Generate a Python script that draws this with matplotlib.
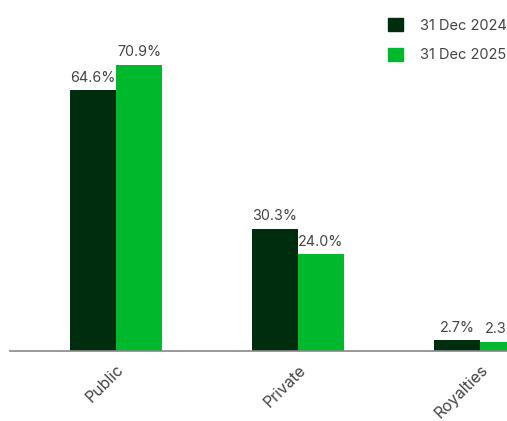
import numpy as np
import matplotlib.pyplot as plt
from matplotlib.patches import Patch

categories = ['Public', 'Private', 'Royalties']
dec_2024 = [64.6, 30.3, 2.7]
dec_2025 = [70.9, 24.0, 2.3]
series_names = ['31 Dec 2024', '31 Dec 2025']
colors = ['#002d0e', '#00b82b']

plt.rcParams['font.family'] = ['Inter', 'DejaVu Sans']

fig = plt.figure(figsize=(5.07, 4.21), dpi=100)
ax = fig.add_axes([10 / 507, 70 / 421, 1 - 10 / 507, 351 / 421])

x = np.arange(len(categories))
w = 0.253
b1 = ax.bar(x - w / 2, dec_2024, w, color=colors[0])
b2 = ax.bar(x + w / 2, dec_2025, w, color=colors[1])

for bars, vals in [(b1, dec_2024), (b2, dec_2025)]:
    for bar, v in zip(bars, vals):
        ax.annotate(f'{v:.1f}%', (bar.get_x() + bar.get_width() / 2, v),
                    xytext=(0, 4), textcoords='offset points',
                    ha='center', va='bottom', fontsize=10.3, color='#444444',
                    annotation_clip=False)

ax.set_xlim(-0.582, 2.148)
ax.set_ylim(0, 87)
ax.set_xticks(x)
ax.set_xticklabels(categories, rotation=45, ha='right', rotation_mode='anchor',
                   fontsize=11.5, color='#444444')
ax.tick_params(axis='x', length=0, pad=8)
ax.set_yticks([])
for s in ['top', 'right', 'left']:
    ax.spines[s].set_visible(False)
ax.spines['bottom'].set_color('#888888')
ax.spines['bottom'].set_linewidth(1.2)

handles = [Patch(color=c) for c in colors]
fig.legend(handles, series_names, loc='upper left', bbox_to_anchor=(375 / 507, 1 - 5 / 421),
           frameon=False, fontsize=10.5, handlelength=1.0, handleheight=1.0,
           labelspacing=1.05, handletextpad=1.2, labelcolor='#444444')

fig.savefig('out.png', dpi=100)
